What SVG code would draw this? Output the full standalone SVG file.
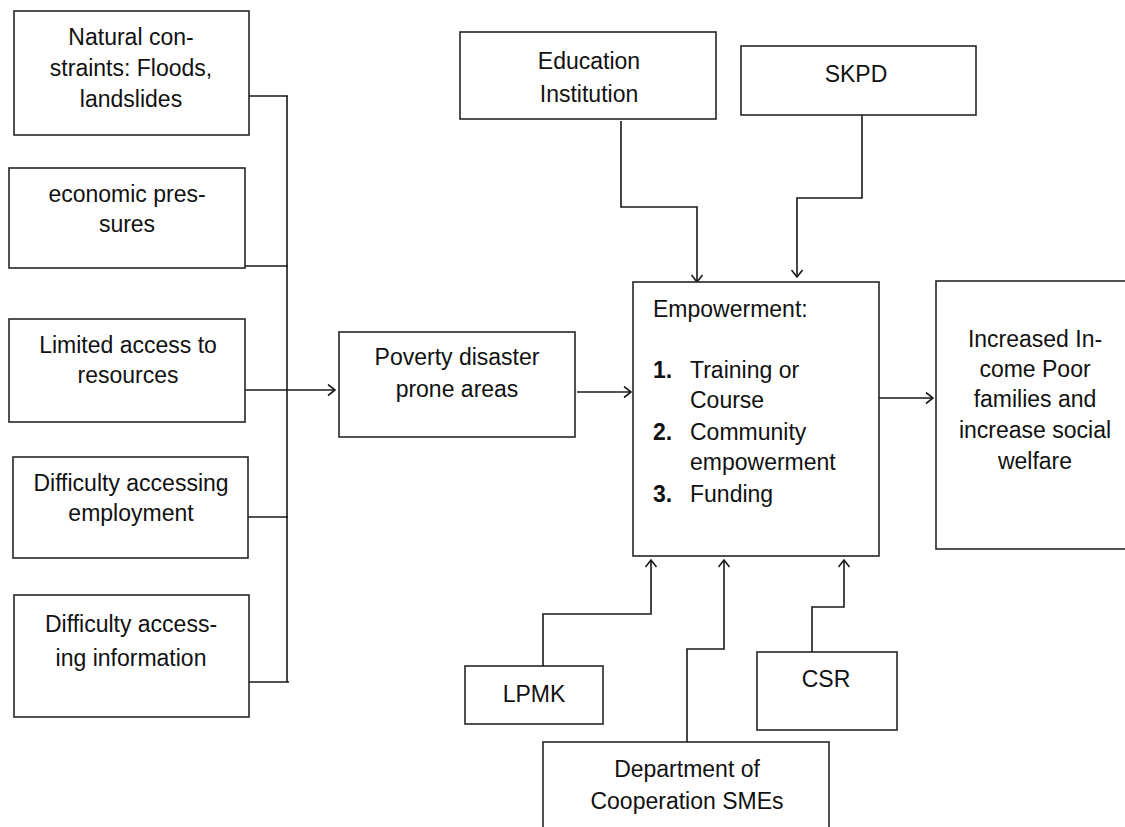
<svg xmlns="http://www.w3.org/2000/svg" width="1125" height="827" viewBox="0 0 1125 827">
<style>
.box{fill:#fff;stroke:#262626;stroke-width:1.6}
.t{font-family:"Liberation Sans",Arial,sans-serif;font-size:23px;fill:#111;text-anchor:middle}
.l{text-anchor:start}
.b{font-weight:bold}
.c{fill:none;stroke:#1a1a1a;stroke-width:1.6}
.a{marker-end:url(#arr)}
</style>
<defs>
<marker id="arr" markerUnits="userSpaceOnUse" markerWidth="12" markerHeight="14" refX="8" refY="6" orient="auto">
<path d="M1,0.5 L8,6 L1,11.5" fill="none" stroke="#1a1a1a" stroke-width="1.6"/>
</marker>
</defs>
<rect width="1125" height="827" fill="#fff"/>

<g id="connectors">
<path class="c" d="M247,96 H288 M245,266 H288 M248,517 H288 M249,682 H289 M287,96 V682"/>
<path class="c a" d="M242,390 H335"/>
<path class="c a" d="M577,392 H631"/>
<path class="c a" d="M879,398 H933"/>
<path class="c a" d="M621,121 V207 H697 V282"/>
<path class="c a" d="M862,115 V198 H797 V277"/>
<path class="c a" d="M543,666 V614 H651 V560"/>
<path class="c a" d="M687,742 V649 H724 V560"/>
<path class="c a" d="M812,652 V607 H844 V560"/>
</g>

<g id="natural">
<rect class="box" x="14" y="11" width="235" height="124"/>
<text class="t" x="131" y="45" font-size="22.5">Natural con-</text>
<text class="t" x="131" y="76" font-size="22.5">straints: Floods,</text>
<text class="t" x="131" y="107" font-size="22.5">landslides</text>
</g>
<g id="economic">
<rect class="box" x="9" y="168" width="236" height="100"/>
<text class="t" x="127" y="202">economic pres-</text>
<text class="t" x="127" y="232">sures</text>
</g>
<g id="limited">
<rect class="box" x="9" y="319" width="236" height="103"/>
<text class="t" x="128" y="353">Limited access to</text>
<text class="t" x="128" y="383">resources</text>
</g>
<g id="employment">
<rect class="box" x="13" y="457" width="235" height="101"/>
<text class="t" x="131" y="491">Difficulty accessing</text>
<text class="t" x="131" y="521">employment</text>
</g>
<g id="information">
<rect class="box" x="14" y="595" width="235" height="122"/>
<text class="t" x="131" y="632" font-size="26">Difficulty access-</text>
<text class="t" x="131" y="666" font-size="26">ing information</text>
</g>
<g id="poverty">
<rect class="box" x="339" y="332" width="236" height="105"/>
<text class="t" x="457" y="365">Poverty disaster</text>
<text class="t" x="457" y="397">prone areas</text>
</g>
<g id="education">
<rect class="box" x="460" y="32" width="256" height="87"/>
<text class="t" x="589" y="69" font-size="26">Education</text>
<text class="t" x="589" y="102" font-size="26">Institution</text>
</g>
<g id="skpd">
<rect class="box" x="741" y="46" width="235" height="69"/>
<text class="t" x="856" y="82" font-size="25">SKPD</text>
</g>
<g id="empowerment">
<rect class="box" x="633" y="282" width="246" height="274"/>
<text class="t l" x="653" y="317">Empowerment:</text>
<text class="t l b" x="653" y="378">1.</text>
<text class="t l" x="690" y="378">Training or</text>
<text class="t l" x="690" y="408">Course</text>
<text class="t l b" x="653" y="440">2.</text>
<text class="t l" x="690" y="440">Community</text>
<text class="t l" x="690" y="470">empowerment</text>
<text class="t l b" x="653" y="502">3.</text>
<text class="t l" x="690" y="502">Funding</text>
</g>
<g id="increased">
<rect class="box" x="936" y="281" width="200" height="268"/>
<text class="t" x="1035" y="347" font-size="22.5">Increased In-</text>
<text class="t" x="1035" y="377" font-size="22.5">come Poor</text>
<text class="t" x="1035" y="407" font-size="22.5">families and</text>
<text class="t" x="1035" y="438" font-size="22.5">increase social</text>
<text class="t" x="1035" y="469" font-size="22.5">welfare</text>
</g>
<g id="lpmk">
<rect class="box" x="465" y="666" width="138" height="58"/>
<text class="t" x="534" y="702" font-size="24">LPMK</text>
</g>
<g id="csr">
<rect class="box" x="757" y="652" width="140" height="78"/>
<text class="t" x="826" y="687">CSR</text>
</g>
<g id="department">
<rect class="box" x="543" y="742" width="286" height="100"/>
<text class="t" x="687" y="777">Department of</text>
<text class="t" x="687" y="809" font-size="25">Cooperation SMEs</text>
</g>
</svg>
